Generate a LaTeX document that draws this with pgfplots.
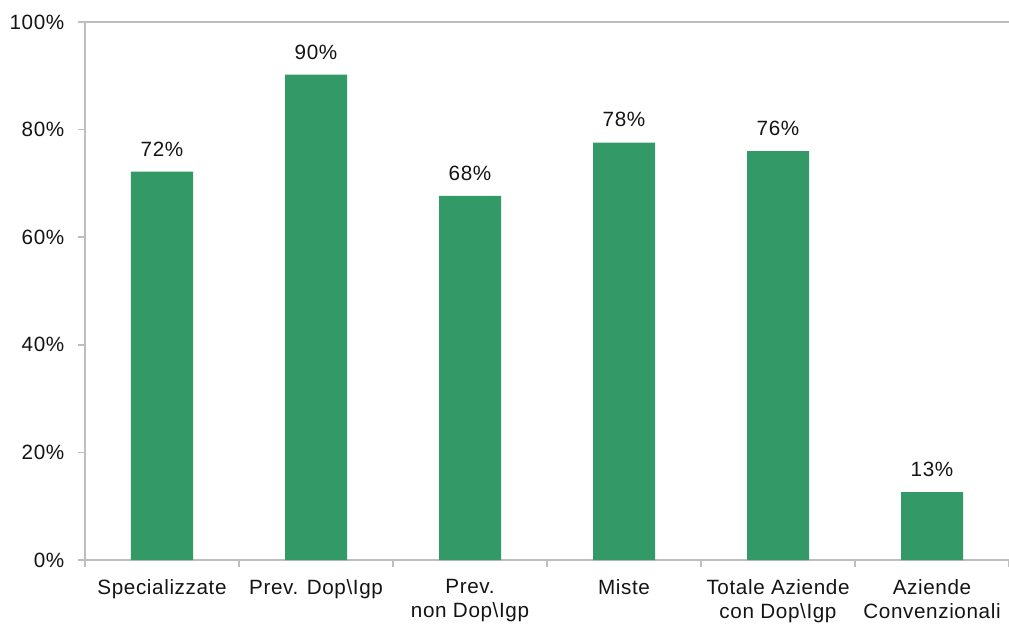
\documentclass[border=0pt]{standalone}
\usepackage{pgfplots}
\pgfplotsset{compat=1.18}
\usepackage{fontspec}
\setmainfont{Liberation Sans}[LetterSpace=3]
\definecolor{bargreen}{RGB}{51,153,102}
\definecolor{axgray}{RGB}{190,190,190}
\definecolor{txt}{RGB}{20,20,20}
\begin{document}
\begin{tikzpicture}
\useasboundingbox (-63.75pt,-48.75pt) rectangle (693pt,420pt);
\begin{axis}[
  at={(0,0)}, anchor=south west,
  scale only axis,
  width=693pt, height=403.5pt,
  xmin=-0.5, xmax=5.5,
  ymin=0, ymax=100,
  axis lines*=left,
  axis line style={axgray, line width=1.4pt},
  ybar, bar width=46.5pt,
  xtick=data,
  xticklabels={Specializzate, Prev. Dop\textbackslash Igp, {Prev.\\non Dop\textbackslash Igp}, Miste, {Totale Aziende\\con Dop\textbackslash Igp}, {Aziende\\Convenzionali}},
  x tick label style={align=center, font=\fontsize{15.5}{18}\selectfont, text=txt, yshift=-6pt},
  major x tick style={draw=none},
  minor xtick={-0.5,0.5,...,5.5},
  minor x tick style={axgray, line width=1.2pt},
  minor tick length=5pt,
  ytick={0,20,40,60,80,100},
  yticklabel={\pgfmathparse{int(\tick)}\pgfmathresult\%},
  y tick label style={font=\fontsize{15.5}{18}\selectfont, text=txt, xshift=-7pt},
  major y tick style={axgray, line width=1.2pt},
  major tick length=5pt,
  tick align=outside,
  extra y ticks={100},
  extra y tick labels={},
  extra y tick style={grid=major, major grid style={axgray, line width=1.4pt}},
  nodes near coords={\pgfmathprintnumber[fixed,precision=0]{\pgfplotspointmeta}\%},
  /pgf/number format/assume math mode=true,
  every node near coord/.append style={font=\fontsize{15.5}{18}\selectfont, text=txt, yshift=8pt},
  clip=false,
]
\addplot[fill=bargreen, draw=none] coordinates {(0,72.2) (1,90.2) (2,67.7) (3,77.6) (4,76.0) (5,12.6)};
\end{axis}
\end{tikzpicture}
\end{document}
